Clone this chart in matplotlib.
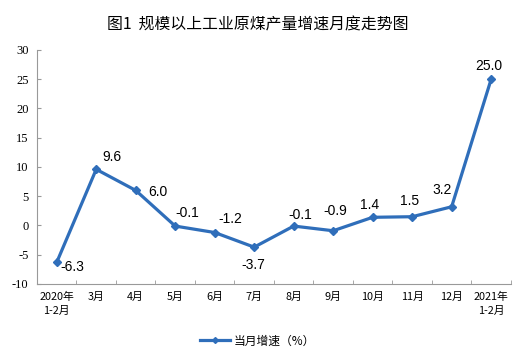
import matplotlib
matplotlib.use("Agg")
import matplotlib.pyplot as plt
from matplotlib.lines import Line2D

categories = ["2020年\n1-2月", "3月", "4月", "5月", "6月", "7月", "8月", "9月",
              "10月", "11月", "12月", "2021年\n1-2月"]
values = [-6.3, 9.6, 6.0, -0.1, -1.2, -3.7, -0.1, -0.9, 1.4, 1.5, 3.2, 25.0]
yticks = [-10, -5, 0, 5, 10, 15, 20, 25, 30]

# label offsets in points (style)
offsets = [(11.5, -3), (11.5, 8.6), (16, -1.5), (8.6, 9.4), (11, 9.4), (-0.7, -13),
           (5, 8), (1.4, 14), (-2, 8.6), (-2, 11), (-7, 12), (-1.4, 9.4)]

cjk = ["Noto Sans CJK SC", "DejaVu Sans"]
color = "#2F6EBA"

fig = plt.figure(figsize=(5.15, 3.57), dpi=100)
ax = fig.add_axes([0.0718, 0.2045, 0.9202, 0.6555])

x = list(range(len(values)))
ax.plot(x, values, color=color, lw=2.3, marker="D", ms=4, zorder=3)
for xi, v, (dx, dy) in zip(x, values, offsets):
    ax.annotate(f"{v:.1f}", (xi, v), xytext=(dx, dy), textcoords="offset points",
                ha="center", va="center", fontsize=10, family="Liberation Sans")

ax.set_xlim(-0.5, len(values) - 0.5)
ax.set_ylim(-10, 30)
ax.set_yticks(yticks)
ax.set_yticklabels([str(t) for t in yticks], family="Liberation Serif", fontsize=9)
ax.set_xticks(x)
ax.set_xticklabels(categories, family=cjk, fontsize=7.8, linespacing=1.4)
ax.tick_params(axis="x", length=0, pad=6)
ax.set_xticks([i + 0.5 for i in range(-1, len(values))], minor=True)
ax.tick_params(axis="x", which="minor", direction="in", length=3, color="#999999")
ax.tick_params(axis="y", direction="in", length=3, color="#999999", pad=6)
for s in ["top", "right"]:
    ax.spines[s].set_visible(False)
for s in ["left", "bottom"]:
    ax.spines[s].set_color("#999999")
    ax.spines[s].set_linewidth(0.8)

fig.text(0.5, 0.93, "图1  规模以上工业原煤产量增速月度走势图", ha="center", va="center",
         family=cjk, fontsize=11.4, weight="medium")

handle = Line2D([], [], color=color, lw=2.3, marker="D", ms=3)
fig.legend([handle], ["当月增速（%）"], loc="center", bbox_to_anchor=(0.5, 0.045),
           frameon=False, prop={"family": cjk, "size": 8.5}, handlelength=2.5,
           handletextpad=0.3)

fig.savefig("out.png", dpi=100)
